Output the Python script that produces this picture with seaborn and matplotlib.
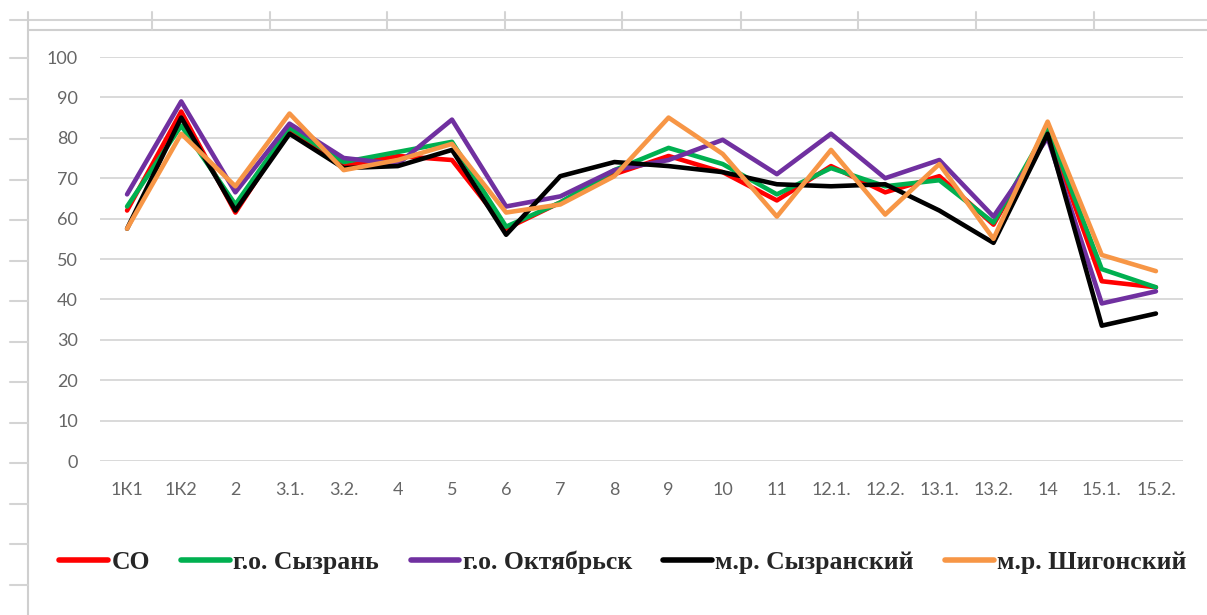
import pandas as pd
import matplotlib.pyplot as plt
import seaborn as sns
from matplotlib.lines import Line2D
from matplotlib.font_manager import FontProperties

sns.set_theme(style="white")
plt.rcParams['font.family'] = ['Lato', 'DejaVu Sans']

# Данные
categories = ['1К1', '1К2', '2', '3.1.', '3.2.', '4', '5', '6', '7', '8', '9', '10',
              '11', '12.1.', '12.2.', '13.1.', '13.2.', '14', '15.1.', '15.2.']
series_names = ['СО', 'г.о. Сызрань', 'г.о. Октябрьск', 'м.р. Сызранский', 'м.р. Шигонский']
so = [62, 86.5, 61.5, 82, 73, 75.5, 74.5, 57.5, 64, 71, 75.5, 71.5, 64.5, 73, 66.5, 70.5, 58.5, 82, 44.5, 43]
syzran = [63, 83, 63.5, 82.5, 74, 76.5, 79, 58, 64, 72, 77.5, 73.5, 66, 72.5, 68, 69.5, 59, 82.5, 47.5, 43]
oktyabrsk = [66, 89, 66.5, 83.5, 75, 73.5, 84.5, 63, 65.5, 72, 74.5, 79.5, 71, 81, 70, 74.5, 60.5, 80, 39, 42]
syzransky = [57.5, 85, 62, 81, 72.5, 73, 77, 56, 70.5, 74, 73, 71.5, 68.5, 68, 68.5, 62, 54, 81, 33.5, 36.5]
shigonsky = [57.5, 81, 68, 86, 72, 74.5, 78.5, 61.5, 63.5, 70.5, 85, 76, 60.5, 77, 61, 73.5, 55, 84, 51, 47]
colors = ['#FF0000', '#00B050', '#7030A0', '#000000', '#F79646']

df = pd.DataFrame({'Показатель': categories})
for name, vals in zip(series_names, [so, syzran, oktyabrsk, syzransky, shigonsky]):
    df[name] = vals
long = df.melt(id_vars='Показатель', var_name='Ряд', value_name='Значение')

W, H = 1207, 615
fig = plt.figure(figsize=(W / 100, H / 100), dpi=100)
ax = fig.add_axes([100 / W, 1 - 461 / H, 1083 / W, 404 / H])

palette = dict(zip(series_names, colors))
sns.lineplot(data=long, x='Показатель', y='Значение', hue='Ряд', palette=palette,
             linewidth=3.3, sort=False, ax=ax, legend=False)

ax.set_xlim(-0.5, len(categories) - 0.5)
ax.set_ylim(0, 100)
ax.set_yticks(range(0, 101, 10))
ax.yaxis.grid(True, color='#d9d9d9', linewidth=1.4)
ax.set_axisbelow(True)
for s in ax.spines.values():
    s.set_visible(False)
ax.set_xlabel('')
ax.set_ylabel('')
ax.tick_params(axis='y', length=0, pad=16, labelsize=13, labelcolor='#666666')
ax.tick_params(axis='x', length=0, pad=15, labelsize=13, labelcolor='#666666')

# Легенда
handles = [Line2D([0], [0], color=c, lw=4, solid_capstyle='round') for c in colors]
fig.legend(handles, series_names, loc='center', bbox_to_anchor=(623 / W, 1 - 562 / H),
           ncol=5, frameon=False,
           prop=FontProperties(family='Liberation Serif', weight='bold', size=18.5),
           handlelength=1.9, handletextpad=0.12, columnspacing=1.23)

# Рамка листа Excel
def px(x, y):
    return x / W, 1 - y / H

grey = '#d4d4d4'
def fline(x0, y0, x1, y1, c=grey, lw=1.5):
    (a, b), (c2, d) = px(x0, y0), px(x1, y1)
    fig.add_artist(Line2D([a, c2], [b, d], transform=fig.transFigure, color=c, lw=lw))

fline(10, 20, W, 20)
fline(28, 30, W, 30, c='#cfcfcf')
fline(28, 12, 28, H, c='#cfcfcf')
for x in [152, 270, 387, 505, 622, 741, 858, 976, 1094]:
    fline(x, 12, x, 30)
y = 58
while y < H:
    fline(10, y, 28, y)
    y += 40.5

fig.savefig('out.png', dpi=100)
